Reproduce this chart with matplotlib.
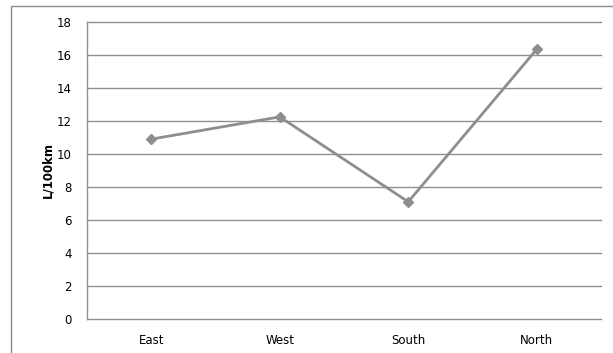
import matplotlib.pyplot as plt
import matplotlib.patches as mpatches

regions = ["East", "West", "South", "North"]
consumption = [10.9, 12.25, 7.1, 16.35]
yticks = [0, 2, 4, 6, 8, 10, 12, 14, 16, 18]

W, H = 613, 353
fig = plt.figure(figsize=(W / 100, H / 100), dpi=100)
fig.patch.set_facecolor("white")

# chart border (cut off on the right and bottom)
border = mpatches.Rectangle((11 / W, -0.1), 1.2, 1 - 6 / H + 0.1,
                            transform=fig.transFigure, fill=False,
                            edgecolor="#8c8c8c", linewidth=1.0)
fig.add_artist(border)

ax = fig.add_axes([87 / W, 1 - 319 / H, (601 - 87) / W, (319 - 22) / H])
x = list(range(len(regions)))
ax.plot(x, consumption, color="#8e8e8e", linewidth=2, marker="D",
        markersize=5, markeredgecolor="#8e8e8e", markerfacecolor="#8e8e8e")

ax.set_xlim(-0.5, len(regions) - 0.5)
ax.set_ylim(0, 18)
ax.set_yticks(yticks)
ax.set_xticks(x)
ax.set_xticklabels(regions, fontsize=8.5)
ax.tick_params(axis="y", labelsize=8.5, length=0, pad=11)
ax.tick_params(axis="x", length=0, pad=11)
for t in yticks:
    ax.axhline(t, color="#8f8f8f", linewidth=1.0, zorder=0, clip_on=False)

for side in ["top", "right", "bottom"]:
    ax.spines[side].set_visible(False)
ax.spines["left"].set_color("#8f8f8f")
ax.spines["left"].set_linewidth(1.0)

ax.set_ylabel("L/100km", fontsize=8.5, fontweight="bold", labelpad=2)

fig.savefig("out.png", dpi=100)
